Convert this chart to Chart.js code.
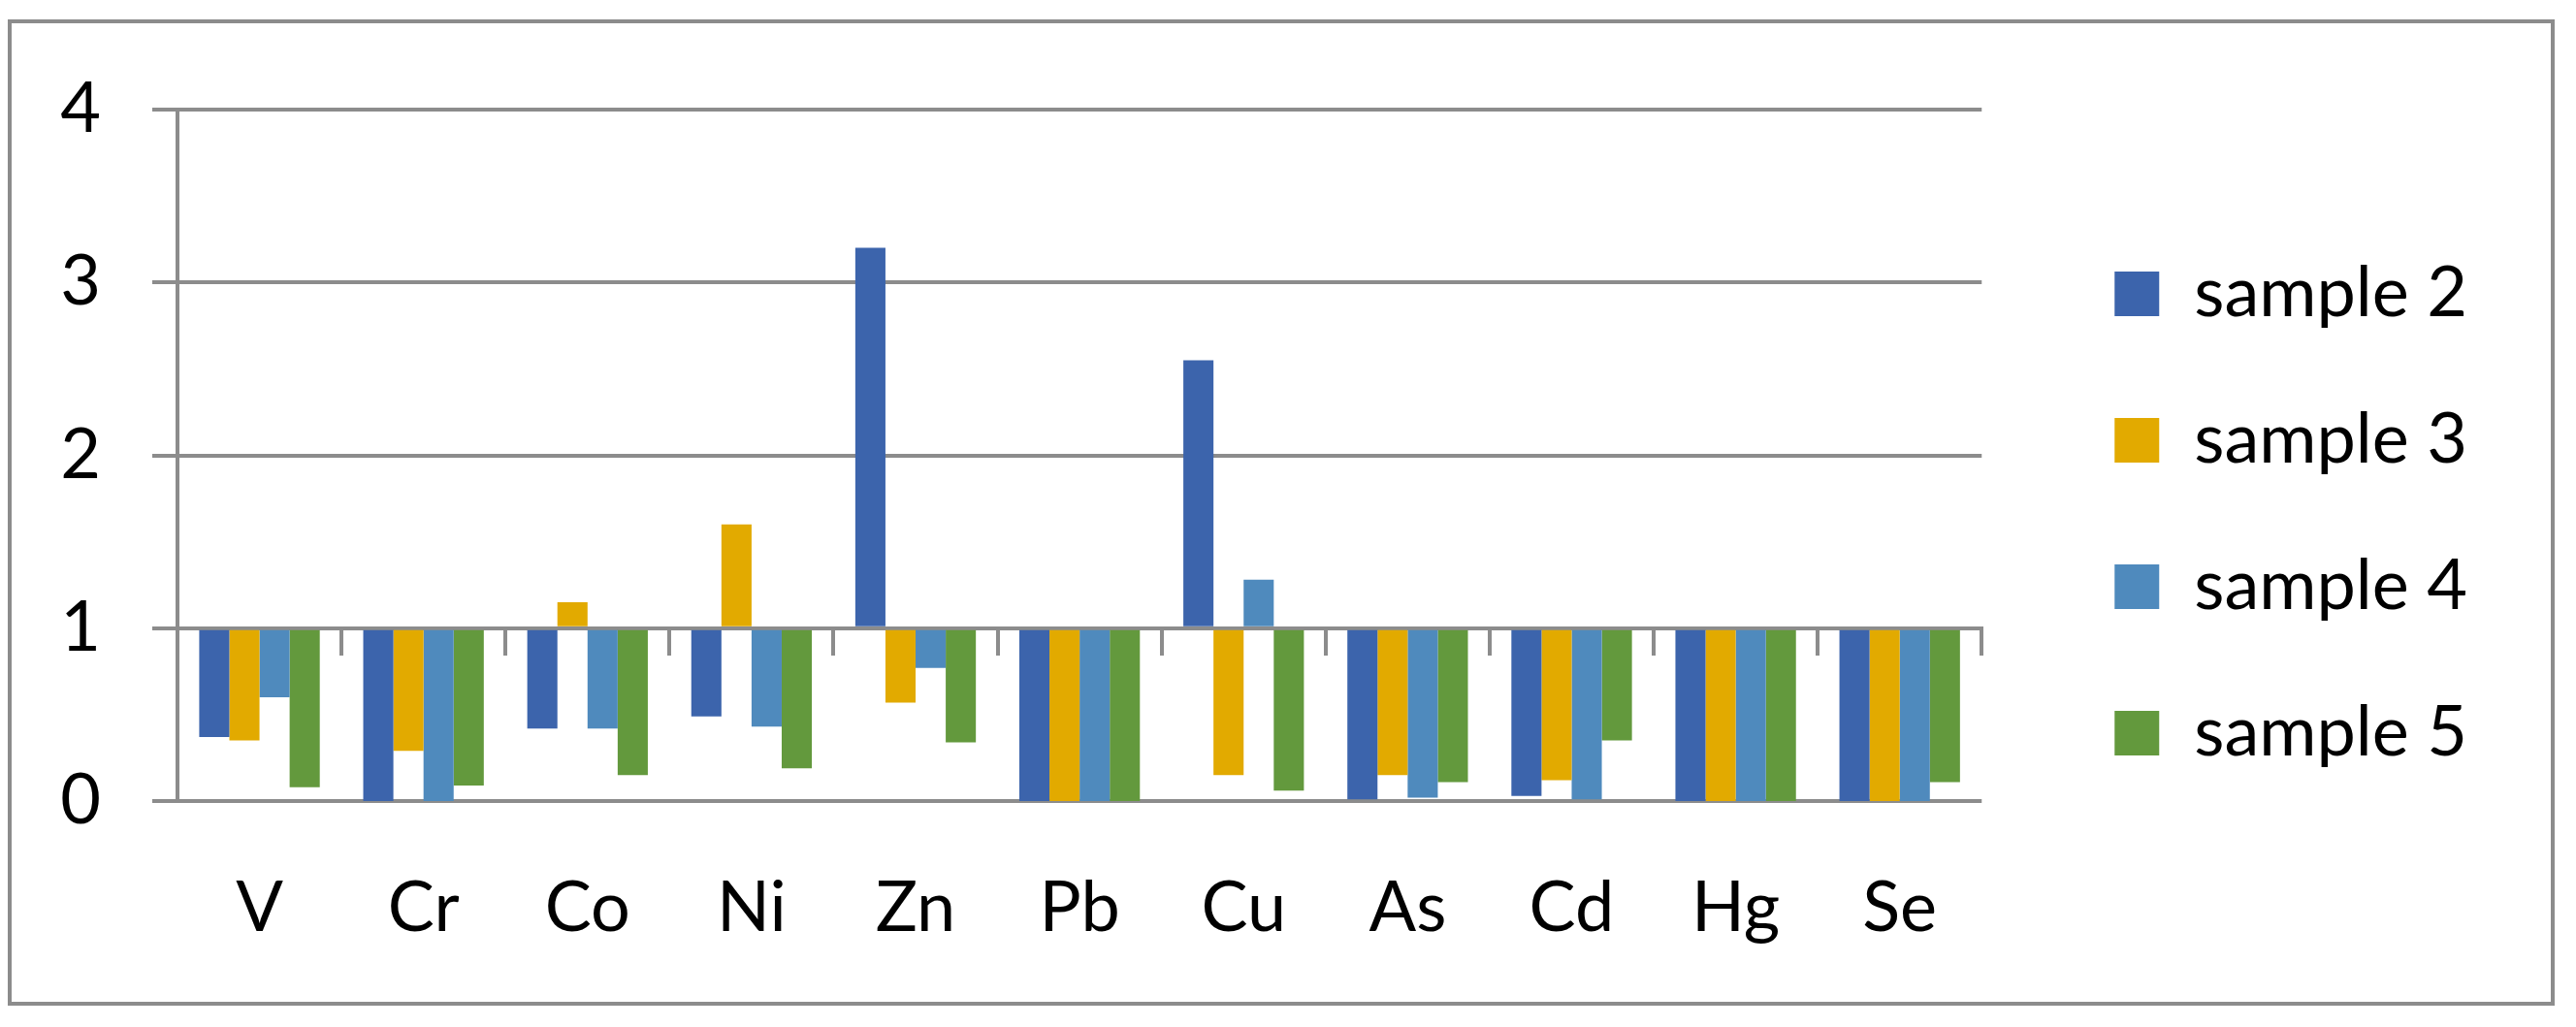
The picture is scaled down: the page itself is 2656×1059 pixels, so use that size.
<!DOCTYPE html>
<html>
<head>
<meta charset="utf-8">
<title>Elements by sample</title>
<script src="https://cdn.jsdelivr.net/npm/chart.js@4.4.0/dist/chart.umd.min.js"></script>
<style>
  html, body { margin: 0; padding: 0; background: #ffffff; }
  canvas { display: block; }
</style>
</head>
<body>
<canvas id="elementsChart" width="2656" height="1059"></canvas>
<script>
// Data (bars hang from the axis line at 1)
const elements = ['V', 'Cr', 'Co', 'Ni', 'Zn', 'Pb', 'Cu', 'As', 'Cd', 'Hg', 'Se'];
const sample2 = [0.37, 0, 0.42, 0.49, 3.20, 0, 2.55, 0.01, 0.03, 0, 0];
const sample3 = [0.35, 0.29, 1.15, 1.60, 0.57, 0, 0.15, 0.15, 0.12, 0, 0];
const sample4 = [0.60, 0, 0.42, 0.43, 0.77, 0, 1.28, 0.02, 0.01, 0, 0];
const sample5 = [0.08, 0.09, 0.15, 0.19, 0.34, 0, 0.06, 0.11, 0.35, 0, 0.11];
const seriesNames = ['sample 2', 'sample 3', 'sample 4', 'sample 5'];
const yTicks = [0, 1, 2, 3, 4];
const axisCross = 1;

const gray = '#8c8c8c';
const fontFamily = 'Lato, "Open Sans", sans-serif';
const colors = ['#3c64ac', '#e2aa00', '#4f8abd', '#63993d'];

// Outer frame around the whole chart
const chartFrame = {
    id: 'chartFrame',
    beforeDraw(chart) {
        const ctx = chart.ctx;
        ctx.save();
        ctx.fillStyle = '#ffffff';
        ctx.fillRect(0, 0, chart.width, chart.height);
        ctx.strokeStyle = gray;
        ctx.lineWidth = 4;
        ctx.strokeRect(10, 22, chart.width - 34, chart.height - 46);
        ctx.restore();
    }
};

function makeDataset(label, data, color) {
    return {
        label: label,
        data: data,
        base: axisCross,
        xAxisID: 'x',
        yAxisID: 'y',
        backgroundColor: color,
        borderWidth: 0,
        categoryPercentage: 0.735,
        barPercentage: 1.0
    };
}

const ctx = document.getElementById('elementsChart').getContext('2d');
const elementsChart = new Chart(ctx, {
    type: 'bar',
    data: {
        labels: elements,
        datasets: [
            makeDataset(seriesNames[0], sample2, colors[0]),
            makeDataset(seriesNames[1], sample3, colors[1]),
            makeDataset(seriesNames[2], sample4, colors[2]),
            makeDataset(seriesNames[3], sample5, colors[3])
        ]
    },
    options: {
        responsive: false,
        animation: false,
        layout: {
            padding: { top: 0, right: 102, bottom: 0, left: 0 }
        },
        plugins: {
            legend: {
                position: 'right',
                align: 'center',
                maxWidth: 800,
                labels: {
                    boxWidth: 46,
                    boxHeight: 46,
                    padding: 79,
                    color: '#000000',
                    font: { family: fontFamily, size: 72 }
                }
            },
            tooltip: { enabled: false }
        },
        scales: {
            x: {
                type: 'category',
                position: 'bottom',
                offset: true,
                grid: { display: false },
                border: { display: false },
                ticks: {
                    color: '#000000',
                    padding: 60,
                    font: { family: fontFamily, size: 72 }
                },
                afterFit: function(scale) { scale.height = 233; }
            },
            // horizontal axis line crossing at 1, with its tick marks
            xCross: {
                type: 'category',
                position: { y: axisCross },
                offset: true,
                grid: {
                    offset: true,
                    drawOnChartArea: false,
                    drawTicks: true,
                    tickLength: 26,
                    color: gray,
                    lineWidth: 4
                },
                border: { display: true, color: gray, width: 4 },
                ticks: { display: false }
            },
            // spacers so the plot area sits where it does in the picture
            xTopSpace: {
                type: 'category',
                position: 'top',
                grid: { display: false },
                border: { display: false },
                ticks: { display: false },
                afterFit: function(scale) { scale.height = 113; }
            },
            yRightSpace: {
                type: 'linear',
                position: 'right',
                grid: { display: false },
                border: { display: false },
                ticks: { display: false },
                afterFit: function(scale) { scale.width = 58; }
            },
            y: {
                type: 'linear',
                position: 'left',
                min: yTicks[0],
                max: yTicks[yTicks.length - 1],
                ticks: {
                    stepSize: 1,
                    color: '#000000',
                    padding: 53,
                    font: { family: fontFamily, size: 72 }
                },
                grid: {
                    color: gray,
                    lineWidth: 4,
                    drawTicks: true,
                    tickLength: 26
                },
                border: { display: true, color: gray, width: 4 },
                afterFit: function(scale) { scale.width = 183; }
            }
        }
    },
    plugins: [chartFrame]
});
</script>
</body>
</html>
